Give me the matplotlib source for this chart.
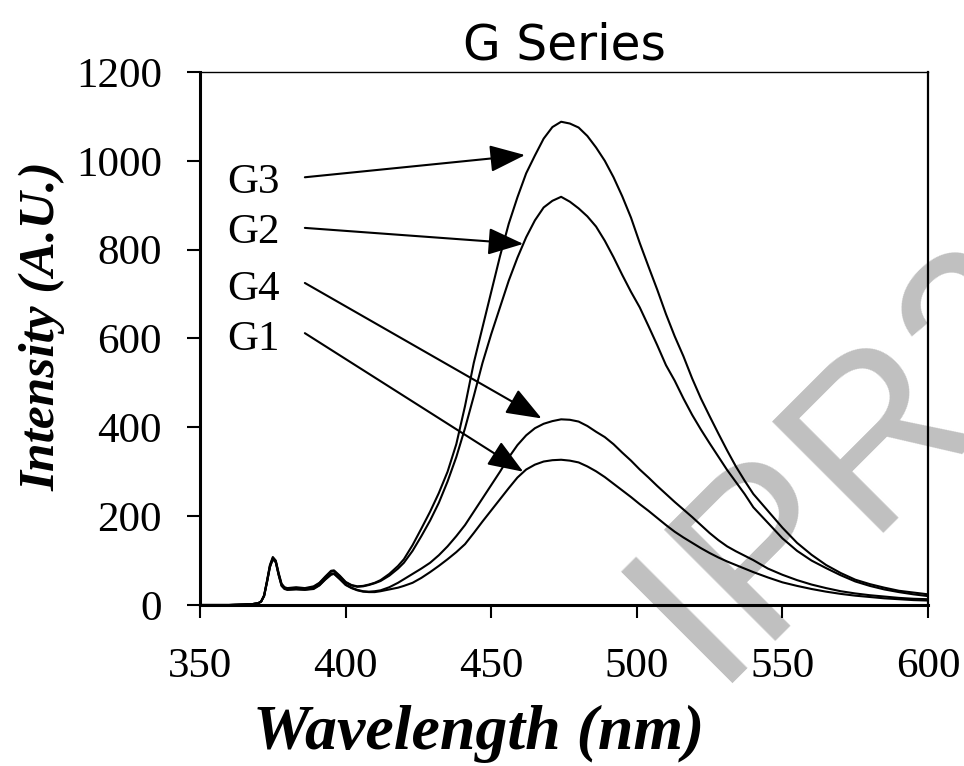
import matplotlib
matplotlib.use('Agg')
import matplotlib.pyplot as plt

# wavelength grid (nm), shared by all four spectra
wl = [350, 360, 365, 368, 370, 371, 372, 373, 374, 375, 376, 377, 378, 379, 380,
      383, 386, 389, 391, 393, 395, 396, 398, 400,
      402, 404, 406, 408, 410, 412,
      415, 418, 420,
      423, 426, 429, 432, 435, 438, 441, 444, 447, 450,
      453, 456, 459, 462, 465, 468, 471, 474, 477, 480,
      483, 486, 489, 492, 495, 498, 501, 504, 507, 510,
      513, 516, 519, 522, 525, 528, 531, 534, 537, 540,
      545, 550, 555, 560, 565, 570, 575, 580, 585, 590, 595, 600]

g3 = [0, 0, 1, 2, 4, 8, 22, 55, 90, 108, 100, 72, 48, 40, 38,
      40, 38, 42, 50, 64, 77, 78, 66, 52,
      45, 42, 43, 46, 50, 56,
      70, 88, 103,
      135, 172, 210, 252, 300, 362, 448, 545, 625, 705,
      785, 858, 918, 972, 1012, 1050, 1076, 1088, 1084, 1075,
      1056, 1030, 1000, 963, 920, 872, 815, 762, 710, 655,
      605, 560, 510, 465, 425, 386, 348, 312, 280, 250,
      212, 174, 140, 113, 90, 72, 57, 47, 39, 32, 28, 24]

g2 = [0, 0, 1, 2, 4, 8, 21, 53, 88, 106, 99, 70, 46, 39, 37,
      38, 37, 40, 49, 62, 75, 76, 64, 51,
      44, 41, 42, 45, 49, 54,
      66, 82, 95,
      122, 155, 190, 230, 278, 333, 398, 470, 545, 610,
      670, 730, 782, 828, 866, 895, 910, 919, 908, 893,
      875, 852, 820, 783, 743, 705, 670, 628, 585, 540,
      505, 465, 428, 395, 364, 334, 304, 277, 250, 220,
      185, 150, 122, 100, 83, 67, 53, 43, 35, 29, 24, 20]

g4 = [0, 0, 1, 2, 4, 8, 20, 52, 86, 104, 97, 68, 44, 37, 35,
      36, 35, 37, 45, 58, 70, 71, 59, 46,
      39, 34, 31, 30, 31, 33,
      40, 50, 58,
      70, 82, 95, 112, 132, 155, 180, 210, 240, 270,
      300, 332, 360, 382, 398, 408, 414, 418, 417, 413,
      403, 390, 378, 362, 343, 325, 305, 287, 268, 250,
      232, 215, 198, 180, 162, 146, 132, 121, 111, 101,
      82, 68, 56, 46, 38, 31, 26, 22, 19, 16, 14, 13]

g1 = [0, 0, 1, 2, 4, 8, 20, 51, 85, 103, 96, 67, 43, 36, 34,
      35, 34, 36, 44, 57, 68, 70, 58, 45,
      38, 33, 30, 29, 29, 31,
      35, 39, 43,
      50, 61, 74, 88, 103, 119, 137, 162, 188, 213,
      238, 263, 287, 305, 316, 323, 326, 327, 325, 321,
      312, 301, 288, 273, 258, 243, 227, 212, 196, 180,
      165, 152, 140, 128, 117, 107, 98, 90, 82, 74,
      62, 51, 43, 36, 30, 25, 21, 18, 15, 13, 11, 10]

labels = ['G3', 'G2', 'G4', 'G1']
series = [g3, g2, g4, g1]
xticks = [350, 400, 450, 500, 550, 600]
yticks = [0, 200, 400, 600, 800, 1000, 1200]

# label text positions, arrow starts and arrow tips (data coords)
label_pos = [(359.5, 950), (359.5, 837), (359.5, 709), (359.5, 597)]
arrow_start = [(386, 963), (386, 849), (386, 725), (386, 612)]
arrow_tip = [(461.6, 1013), (461.0, 813), (467.3, 420), (461.0, 300)]

serif = 'Liberation Serif'

fig = plt.figure(figsize=(9.64, 7.66), dpi=100)
ax = fig.add_axes([0.2075, 0.2102, 0.7552, 0.6958])
ax.patch.set_alpha(0)

for s in series:
    ax.plot(wl, s, color='black', lw=1.5, zorder=2)

for name, lp, st, tp in zip(labels, label_pos, arrow_start, arrow_tip):
    ax.text(lp[0], lp[1], name, fontsize=31, family=serif, ha='left', va='center')
    ax.annotate('', xy=tp, xytext=st,
                arrowprops=dict(arrowstyle='-|>,head_length=1.1,head_width=0.42',
                                mutation_scale=20, lw=1.5, color='black',
                                shrinkA=0, shrinkB=0))

ax.set_xlim(350, 600)
ax.set_ylim(0, 1200)
ax.set_xticks(xticks)
ax.set_yticks(yticks)
for lab in ax.get_xticklabels() + ax.get_yticklabels():
    lab.set_family(serif)
    lab.set_fontsize(31)
ax.tick_params(direction='out', length=9.5, width=1.5)
ax.tick_params(axis='x', pad=21)
ax.tick_params(axis='y', pad=18)

ax.spines['left'].set_linewidth(2.2)
ax.spines['bottom'].set_linewidth(2.2)
ax.spines['top'].set_linewidth(1.0)
ax.spines['right'].set_linewidth(1.6)

ax.set_title('G Series', fontsize=35, family='DejaVu Sans', pad=9)
ax.set_xlabel('Wavelength (nm)', fontsize=46, family=serif,
              fontweight='bold', fontstyle='italic')
ax.set_ylabel('Intensity (A.U.)', fontsize=37, family=serif,
              fontweight='bold', fontstyle='italic')
ax.xaxis.set_label_coords(0.382, -0.187)
ax.yaxis.set_label_coords(-0.185, 0.523)

# watermark
fig.text(0.7386, 0.1084, 'IPR2', rotation=45,
         rotation_mode='anchor', ha='left', va='baseline', fontsize=165,
         family='Liberation Sans', color='#c0c0c0', zorder=-1)

fig.savefig('out.png', dpi=100)
